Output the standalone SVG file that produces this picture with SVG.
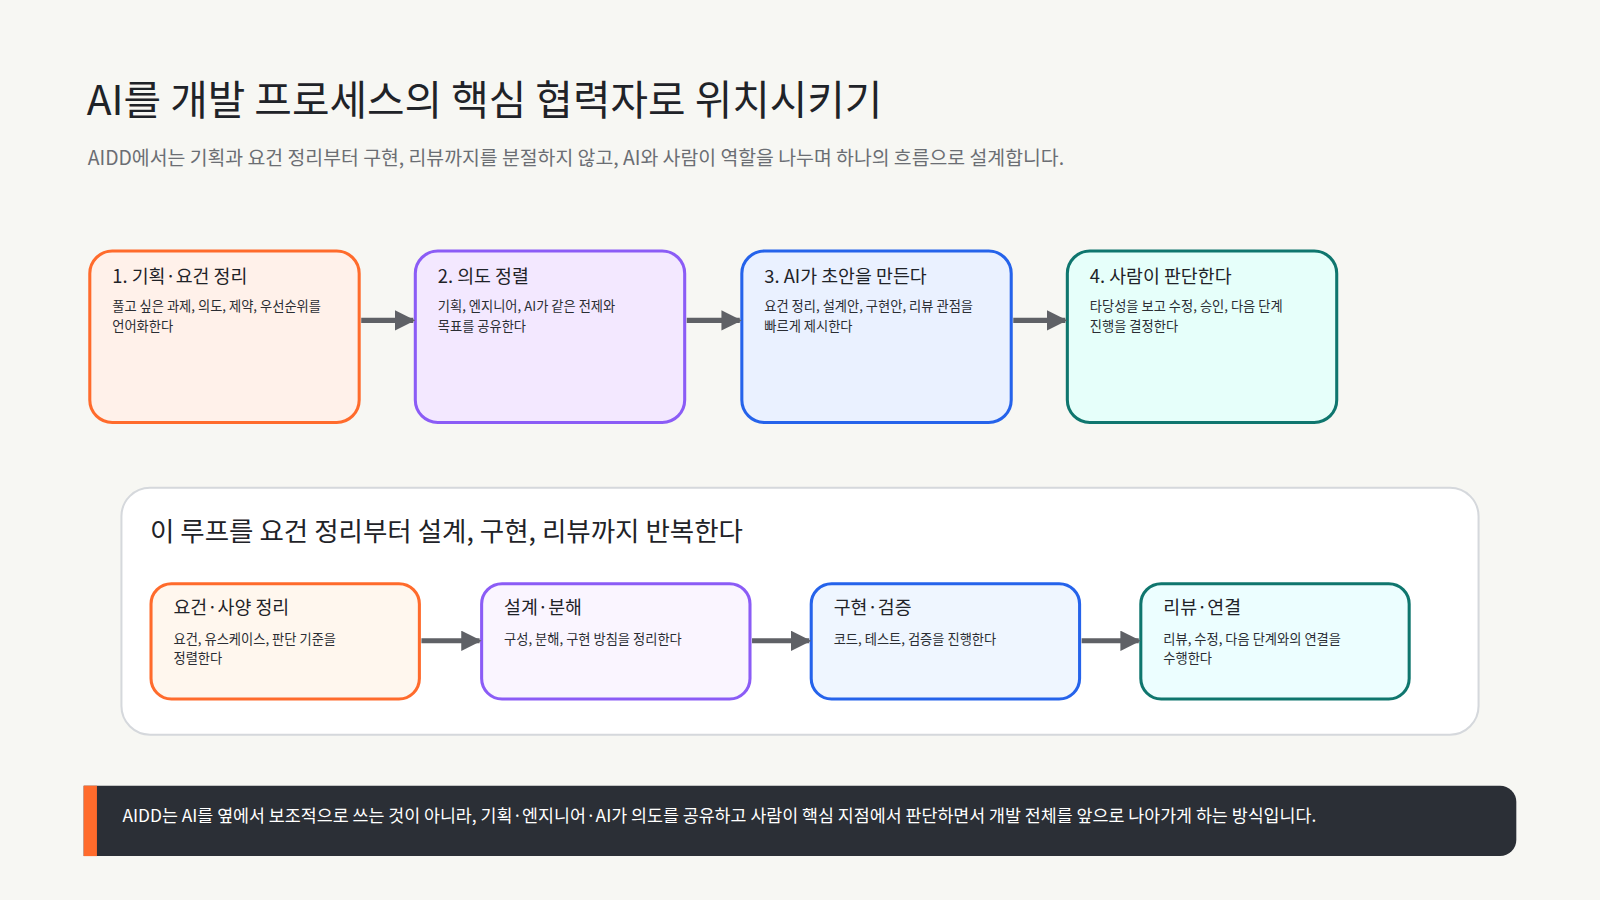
<svg xmlns="http://www.w3.org/2000/svg" width="1600" height="900" viewBox="0 0 1600 900">
<style>
text{font-family:"Noto Sans CJK KR","Noto Sans",sans-serif;fill:#1f2328}
.t{font-size:18px}.d{font-size:13px;fill:#2a2d33}
.o{stroke:#ff6b2c}.p{stroke:#8b5cf6}.b{stroke:#2563eb}.g{stroke:#0f766e}
.box{stroke-width:3}
.c{stroke:#5f6166;stroke-width:5;fill:none;marker-end:url(#ah)}
</style>
<defs><marker id="ah" viewBox="0 0 10 10" refX="9" refY="5" markerWidth="4" markerHeight="4" orient="auto" markerUnits="strokeWidth"><path d="M0,0L10,5L0,10z" fill="#5f6166"/></marker></defs>
<rect width="1600" height="900" fill="#f7f7f3"/>
<g transform="scale(1.0204)">
<text x="85" y="113" font-size="40">AI를 개발 프로세스의 핵심 협력자로 위치시키기</text>
<text x="86" y="162" font-size="19" style="fill:#6b6e73">AIDD에서는 기획과 요건 정리부터 구현, 리뷰까지를 분절하지 않고, AI와 사람이 역할을 나누며 하나의 흐름으로 설계합니다.</text>
<g id="n1"><rect class="box o" x="88" y="246" width="264" height="168" rx="22" fill="#fff1ea"/><text class="t" x="110" y="277">1. 기획·요건 정리</text><text class="d" x="110" y="305">풀고 싶은 과제, 의도, 제약, 우선순위를</text><text class="d" x="110" y="324">언어화한다</text></g>
<g id="n2"><rect class="box p" x="407" y="246" width="264" height="168" rx="22" fill="#f3e8ff"/><text class="t" x="429" y="277">2. 의도 정렬</text><text class="d" x="429" y="305">기획, 엔지니어, AI가 같은 전제와</text><text class="d" x="429" y="324">목표를 공유한다</text></g>
<g id="n3"><rect class="box b" x="727" y="246" width="264" height="168" rx="22" fill="#eaf1ff"/><text class="t" x="749" y="277">3. AI가 초안을 만든다</text><text class="d" x="749" y="305">요건 정리, 설계안, 구현안, 리뷰 관점을</text><text class="d" x="749" y="324">빠르게 제시한다</text></g>
<g id="n4"><rect class="box g" x="1046" y="246" width="264" height="168" rx="22" fill="#e6fffa"/><text class="t" x="1068" y="277">4. 사람이 판단한다</text><text class="d" x="1068" y="305">타당성을 보고 수정, 승인, 다음 단계</text><text class="d" x="1068" y="324">진행을 결정한다</text></g>
<g id="loop"><rect x="119" y="478" width="1330" height="242" rx="28" fill="#fff" stroke="#d5d8dc" stroke-width="2"/><text x="147" y="530" font-size="26">이 루프를 요건 정리부터 설계, 구현, 리뷰까지 반복한다</text></g>
<g id="m1"><rect class="box o" x="148" y="572" width="263" height="113" rx="20" fill="#fff7ee"/><text class="t" x="170" y="602">요건·사양 정리</text><text class="d" x="170" y="631">요건, 유스케이스, 판단 기준을</text><text class="d" x="170" y="650">정렬한다</text></g>
<g id="m2"><rect class="box p" x="472" y="572" width="263" height="113" rx="20" fill="#faf5ff"/><text class="t" x="494" y="602">설계·분해</text><text class="d" x="494" y="631">구성, 분해, 구현 방침을 정리한다</text></g>
<g id="m3"><rect class="box b" x="795" y="572" width="263" height="113" rx="20" fill="#eff6ff"/><text class="t" x="817" y="602">구현·검증</text><text class="d" x="817" y="631">코드, 테스트, 검증을 진행한다</text></g>
<g id="m4"><rect class="box g" x="1118" y="572" width="263" height="113" rx="20" fill="#ecfeff"/><text class="t" x="1140" y="602">리뷰·연결</text><text class="d" x="1140" y="631">리뷰, 수정, 다음 단계와의 연결을</text><text class="d" x="1140" y="650">수행한다</text></g>
<g id="connectors">
<path class="c" d="M354 314H405"/><path class="c" d="M673 314H725"/><path class="c" d="M993 314H1044"/>
<path class="c" d="M413 628H470"/><path class="c" d="M737 628H793"/><path class="c" d="M1060 628H1116"/>
</g>
<g id="footer"><path d="M82 770H1470a16 16 0 0 1 16 16V823a16 16 0 0 1-16 16H82z" fill="#2b2f36"/><rect x="82" y="770" width="13" height="69" fill="#ff6b2c"/><text x="120" y="806" font-size="17" style="fill:#fff">AIDD는 AI를 옆에서 보조적으로 쓰는 것이 아니라, 기획·엔지니어·AI가 의도를 공유하고 사람이 핵심 지점에서 판단하면서 개발 전체를 앞으로 나아가게 하는 방식입니다.</text></g>
</g>
</svg>
